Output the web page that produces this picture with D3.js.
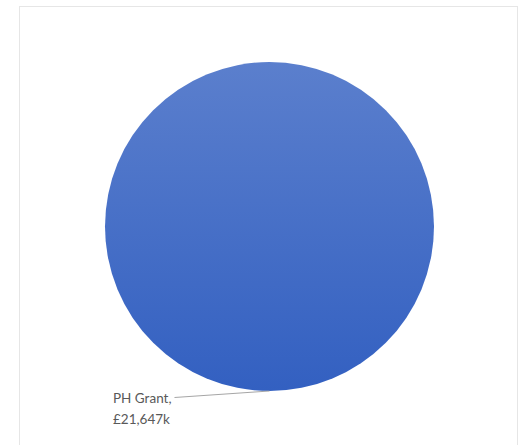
<!DOCTYPE html>
<html>
<head>
<meta charset="utf-8">
<script src="https://cdn.jsdelivr.net/npm/d3@7"></script>
<style>
  html, body { margin: 0; padding: 0; background: #ffffff; }
  svg { display: block; }
</style>
</head>
<body>
<svg id="chart" width="520" height="445"></svg>
<script>
// Funding sources and amounts (£ thousands)
const categories = ["PH Grant"];
const values = [21647];
const labels = ["£21,647k"];

const width = 520, height = 445;
const cx = 269.5, cy = 226.5, radius = 164.5;

const svg = d3.select("#chart");

// chart frame
svg.append("rect")
  .attr("x", 19.5).attr("y", 6.5)
  .attr("width", 498).attr("height", 445)
  .attr("fill", "#ffffff")
  .attr("stroke", "#e6e6e6")
  .attr("stroke-width", 1);

// vertical gradient for the slice fill
const defs = svg.append("defs");
const grad = defs.append("linearGradient")
  .attr("id", "sliceFill")
  .attr("x1", 0).attr("y1", 0).attr("x2", 0).attr("y2", 1);
grad.append("stop").attr("offset", "0%").attr("stop-color", "#5b7fcd");
grad.append("stop").attr("offset", "100%").attr("stop-color", "#3360c1");

const pie = d3.pie().sort(null).value(d => d.value);
const data = categories.map((c, i) => ({ name: c, value: values[i], label: labels[i] }));
const arcs = pie(data);

const arc = d3.arc().innerRadius(0).outerRadius(radius);

const g = svg.append("g").attr("transform", `translate(${cx},${cy})`);

g.selectAll("path.slice")
  .data(arcs)
  .join("path")
  .attr("class", "slice")
  .attr("d", arc)
  .attr("fill", "url(#sliceFill)");

// leader lines and data labels
const labelX = 113 - cx;
arcs.forEach(a => {
  const mid = (a.startAngle + a.endAngle) / 2;
  const px = Math.sin(mid) * radius;
  const py = -Math.cos(mid) * radius;

  const t = g.append("text")
    .attr("x", labelX)
    .attr("y", py + 11.5)
    .attr("font-family", "Lato, 'Open Sans', sans-serif")
    .attr("font-size", 13.5)
    .attr("fill", "#595959");
  const first = t.append("tspan").attr("x", labelX).text(a.data.name + ",");
  t.append("tspan").attr("x", labelX).attr("dy", 21).text(a.data.label);

  // leader starts just past the end of the first label line
  const lx = labelX + first.node().getComputedTextLength() + 3;
  const ly = py + 6.5;

  g.append("polyline")
    .attr("points", [[px, py], [lx, ly]].map(p => p.join(",")).join(" "))
    .attr("fill", "none")
    .attr("stroke", "#a6a6a6")
    .attr("stroke-width", 1);
});
</script>
</body>
</html>
